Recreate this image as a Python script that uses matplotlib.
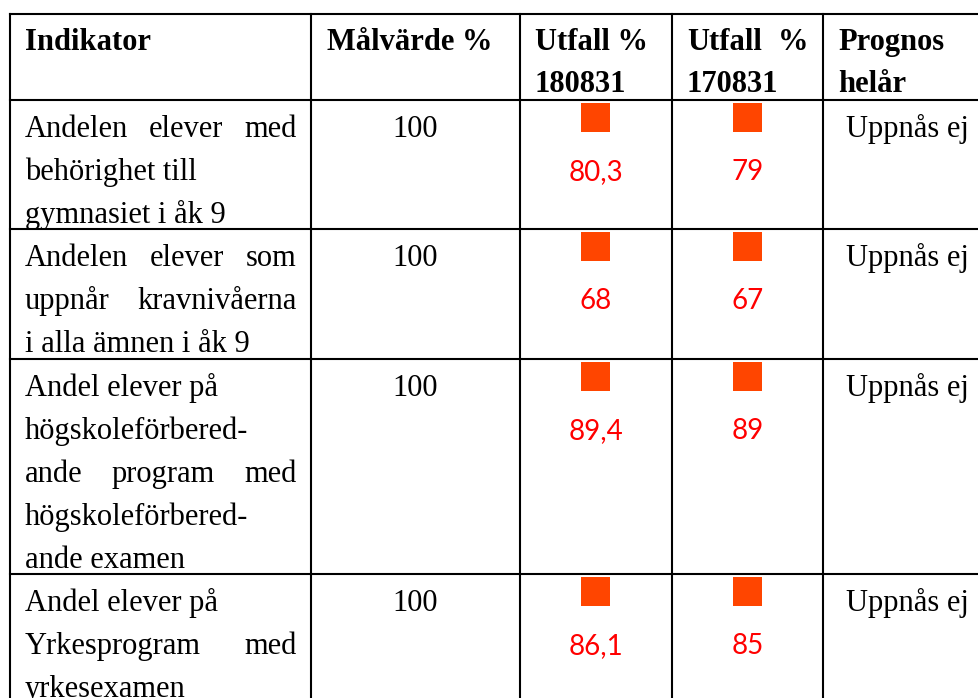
import matplotlib
matplotlib.use("Agg")
import matplotlib.pyplot as plt
from matplotlib.patches import Rectangle

# table content
headers = [["Indikator"], ["Målvärde %"], ["Utfall %", "180831"],
           ["Utfall   %", "170831"], ["Prognos", "helår"]]

indikator = [
    ["Andelen elever med", "behörighet till", "gymnasiet i åk 9"],
    ["Andelen elever som", "uppnår kravnivåerna", "i alla ämnen i åk 9"],
    ["Andel elever på", "högskoleförbered-", "ande program med",
     "högskoleförbered-", "ande examen"],
    ["Andel elever på", "Yrkesprogram med", "yrkesexamen"],
]
# which lines are justified (word processor style)
justified = [
    [True, False, False],
    [True, True, False],
    [False, False, True, False, False],
    [False, True, False],
]
malvarde = ["100", "100", "100", "100"]
utfall_180831 = ["80,3", "68", "89,4", "86,1"]
utfall_170831 = ["79", "67", "89", "85"]
prognos = ["Uppnås ej", "Uppnås ej", "Uppnås ej", "Uppnås ej"]

W, H = 979, 698
col_x = [10, 311, 520, 672, 823, 1000]
row_y = [14, 100, 229, 359, 574, 760]
line_h = 43
pad = 15

serif = "Liberation Serif"
fs = 22
fig = plt.figure(figsize=(W / 100, H / 100), dpi=100)
ax = fig.add_axes([0, 0, 1, 1])
ax.set_xlim(0, W)
ax.set_ylim(H, 0)
ax.axis("off")

# grid lines
lw = 1.5
for x in col_x[:-1]:
    ax.plot([x, x], [row_y[0], H + 5], color="black", lw=lw)
for y in row_y[:-1]:
    ax.plot([col_x[0], W + 5], [y, y], color="black", lw=lw)

fig.canvas.draw()
renderer = fig.canvas.get_renderer()


def text_width(s, **kw):
    t = ax.text(0, 0, s, **kw)
    w = t.get_window_extent(renderer).width
    t.remove()
    return w


def put_line(s, x0, x1, y, justify=False, **kw):
    if not justify:
        ax.text(x0, y, s, va="baseline", ha="left", **kw)
        return
    words = s.split()
    widths = [text_width(w, **kw) for w in words]
    gap = (x1 - x0 - sum(widths)) / (len(words) - 1)
    x = x0
    for w, wd in zip(words, widths):
        ax.text(x, y, w, va="baseline", ha="left", **kw)
        x += wd + gap


# header
hkw = dict(family=serif, fontsize=fs, fontweight="bold")
for c, lines in enumerate(headers):
    for i, s in enumerate(lines):
        yb = row_y[0] + 36 + i * 42
        if c == 1:
            ax.text((col_x[1] + col_x[2]) / 2 - 6, yb, s, va="baseline",
                    ha="center", **hkw)
        else:
            x0 = col_x[c] + pad
            just = c == 3 and i == 0
            put_line(s, x0, col_x[c + 1] - pad, yb, justify=just, **hkw)

# body
bkw = dict(family=serif, fontsize=fs)
for r in range(len(indikator)):
    top = row_y[r + 1]
    base = top + 37
    for i, s in enumerate(indikator[r]):
        put_line(s, col_x[0] + pad, col_x[1] - 14, base + i * line_h,
                 justify=justified[r][i], **bkw)
    ax.text((col_x[1] + col_x[2]) / 2, base, malvarde[r], va="baseline",
            ha="center", **bkw)
    for c, vals in ((2, utfall_180831), (3, utfall_170831)):
        cx = (col_x[c] + col_x[c + 1]) / 2
        ax.add_patch(Rectangle((cx - 14.5, top + 3), 29, 29,
                               facecolor="#ff4500", edgecolor="none"))
        ax.text(cx, base + line_h, vals[r], va="baseline", ha="center",
                color="#ff0000", family="Lato", fontsize=20)
    ax.text(col_x[4] + 23, base, prognos[r], va="baseline", ha="left", **bkw)

fig.savefig("out.png", dpi=100)
